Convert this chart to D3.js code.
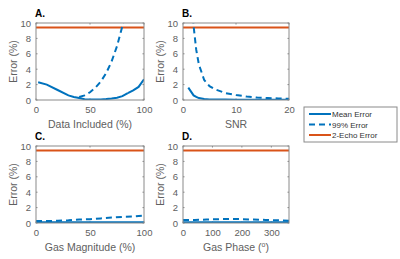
<!DOCTYPE html>
<html><head><meta charset="utf-8">
<script src="https://cdn.jsdelivr.net/npm/d3@7"></script>
<style>body{margin:0;background:#fff}svg{display:block}text{font-family:"Liberation Sans",Arial,sans-serif}</style>
</head><body><svg id="c" width="400" height="259"></svg>
<script>
// Panel A: Data Included (%)
const xA = [2,10,20,30,35,40,45,50,55,60,65,70,75,80,85];
const meanA = [2.3,2.0,1.3,0.6,0.4,0.25,0.1,0.05,0.05,0.08,0.12,0.2,0.3,0.5,0.9];
const p99A = [null,null,null,null,null,0.4,0.6,1.0,1.6,2.4,3.5,5.0,7.0,9.6,12.8];
const xA2 = [85,90,95,100];
const meanA2 = [0.9,1.25,1.7,2.7];
// Panel B: SNR
const xB = [1,2,2.5,3,4,5,6,8,10,12,14,16,18,20];
const meanB = [1.6,0.6,0.4,0.25,0.12,0.08,0.06,0.05,0.04,0.04,0.03,0.03,0.03,0.03];
const p99B = [25,9.6,6.5,4.6,2.6,1.8,1.4,0.9,0.65,0.45,0.32,0.25,0.2,0.15];
// Panel C: Gas Magnitude (%)
const xC = [0,10,20,30,40,50,60,70,80,90,100];
const meanC = [0.1,0.1,0.1,0.1,0.1,0.1,0.1,0.1,0.1,0.1,0.1];
const p99C = [0.25,0.25,0.3,0.35,0.45,0.5,0.6,0.7,0.8,0.85,0.95];
// Panel D: Gas Phase (deg)
const xD = [0,40,80,120,160,200,240,280,320,360];
const meanD = [0.1,0.1,0.1,0.1,0.1,0.1,0.1,0.1,0.1,0.1];
const p99D = [0.4,0.4,0.45,0.5,0.52,0.5,0.45,0.4,0.35,0.3];
const twoEcho = 9.4;
const yTicks = [0,2,4,6,8,10];
const legendLabels = ["Mean Error","99% Error","2-Echo Error"];

const blue = "#0072BD", orange = "#D95319";
const svg = d3.select("#c");

const panels = [
  {id:"A", title:"A.", label:"Data Included (%)", dom:[0,100], ticks:[0,50,100], x0:36, x1:144, yTop:23, yBot:100,
   series:[{x:xA,y:meanA,dash:null},{x:xA2,y:meanA2,dash:null},{x:xA,y:p99A,dash:"6,4"}]},
  {id:"B", title:"B.", label:"SNR", dom:[0,20], ticks:[0,10,20], x0:183, x1:289, yTop:23, yBot:100,
   series:[{x:xB,y:meanB,dash:null},{x:xB,y:p99B,dash:"6,4"}]},
  {id:"C", title:"C.", label:"Gas Magnitude (%)", dom:[0,100], ticks:[0,50,100], x0:36, x1:144, yTop:146, yBot:223,
   series:[{x:xC,y:meanC,dash:null},{x:xC,y:p99C,dash:"6,4"}]},
  {id:"D", title:"D.", label:"Gas Phase (", deg:true, dom:[0,360], ticks:[0,100,200,300], x0:183, x1:289, yTop:146, yBot:223,
   series:[{x:xD,y:meanD,dash:null},{x:xD,y:p99D,dash:"6,4"}]}
];

const defs = svg.append("defs");
panels.forEach(p => {
  const x = d3.scaleLinear().domain(p.dom).range([p.x0,p.x1]);
  const y = d3.scaleLinear().domain([0,10]).range([p.yBot,p.yTop]);
  const g = svg.append("g");
  defs.append("clipPath").attr("id","clip"+p.id).append("rect")
    .attr("x",p.x0).attr("y",p.yTop).attr("width",p.x1-p.x0).attr("height",p.yBot-p.yTop);

  const ax = d3.axisBottom(x).tickValues(p.ticks).tickSize(0).tickPadding(6);
  const gx = g.append("g").attr("transform",`translate(0,${p.yBot})`).call(ax);
  const ay = d3.axisLeft(y).tickValues(yTicks).tickSize(0).tickPadding(5);
  const gy = g.append("g").attr("transform",`translate(${p.x0},0)`).call(ay);
  [gx,gy].forEach(a=>{a.select(".domain").remove();a.selectAll("text").attr("fill","#606060").attr("font-size",9.5).attr("font-family","Liberation Sans, Arial, sans-serif");});

  p.ticks.forEach(t=>{
    g.append("line").attr("x1",x(t)).attr("x2",x(t)).attr("y1",p.yBot).attr("y2",p.yBot-1.5).attr("stroke","#888");
    g.append("line").attr("x1",x(t)).attr("x2",x(t)).attr("y1",p.yTop).attr("y2",p.yTop+1.5).attr("stroke","#888");
  });
  yTicks.forEach(t=>{
    g.append("line").attr("x1",p.x0).attr("x2",p.x0+1.5).attr("y1",y(t)).attr("y2",y(t)).attr("stroke","#888");
    g.append("line").attr("x1",p.x1).attr("x2",p.x1-1.5).attr("y1",y(t)).attr("y2",y(t)).attr("stroke","#888");
  });

  const pg = g.append("g").attr("clip-path",`url(#clip${p.id})`);
  pg.append("path").datum(p.dom).attr("d",d3.line().x(d=>x(d)).y(()=>y(twoEcho)))
    .attr("stroke",orange).attr("stroke-width",2).attr("fill","none");
  p.series.forEach(s=>{
    const pts = s.x.map((v,i)=>[v,s.y[i]]);
    pg.append("path").datum(pts)
      .attr("d",d3.line().defined(d=>d[1]!=null).x(d=>x(d[0])).y(d=>y(d[1])))
      .attr("stroke",blue).attr("stroke-width",2).attr("fill","none")
      .attr("stroke-dasharray",s.dash);
  });

  g.append("rect").attr("x",p.x0).attr("y",p.yTop).attr("width",p.x1-p.x0).attr("height",p.yBot-p.yTop)
    .attr("fill","none").attr("stroke","#8a8a8a").attr("stroke-width",1);

  g.append("text").attr("x",p.x0-1).attr("y",p.yTop-6).attr("font-weight","bold").attr("font-size",10).attr("fill","#000").text(p.title);
  const lt = g.append("text").attr("x",(p.x0+p.x1)/2).attr("y",p.yBot+28).attr("text-anchor","middle")
    .attr("font-size",10.5).attr("fill","#606060").text(p.label);
  if(p.deg){
    lt.append("tspan").attr("font-size",7).attr("dy",-4).text("o");
    lt.append("tspan").attr("dy",4).text(")");
  }
  g.append("text").attr("transform",`translate(${p.x0-19},${(p.yTop+p.yBot)/2}) rotate(-90)`)
    .attr("text-anchor","middle").attr("font-size",10.5).attr("fill","#606060").text("Error (%)");
});

const lg = svg.append("g");
lg.append("rect").attr("x",304).attr("y",107).attr("width",93).attr("height",35).attr("fill","#fff").attr("stroke","#8a8a8a");
const lstyles = [{c:blue,d:null},{c:blue,d:"6,4"},{c:orange,d:null}];
legendLabels.forEach((l,i)=>{
  const yy = 114 + i*10.5;
  lg.append("line").attr("x1",309).attr("x2",331).attr("y1",yy).attr("y2",yy)
    .attr("stroke",lstyles[i].c).attr("stroke-width",2).attr("stroke-dasharray",lstyles[i].d);
  lg.append("text").attr("x",332).attr("y",yy+3).attr("font-size",8).attr("fill","#333").text(l);
});
</script></body></html>
